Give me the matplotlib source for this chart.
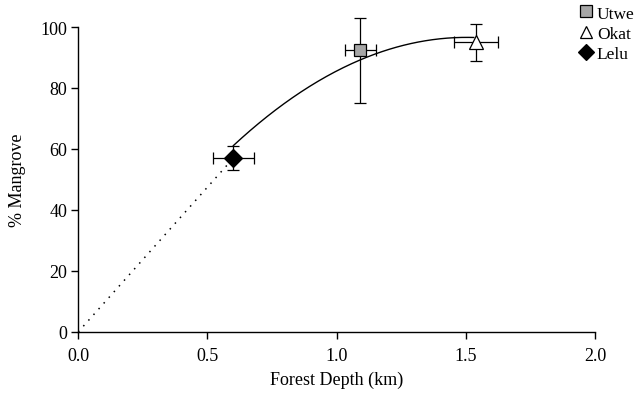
import matplotlib
matplotlib.use("Agg")
import matplotlib.pyplot as plt
import numpy as np

plt.rcParams['font.family'] = ['Liberation Serif', 'DejaVu Serif']

# Data
sites = ["Utwe", "Okat", "Lelu"]
depth = [1.09, 1.54, 0.60]
mangrove = [92.5, 95.0, 57.0]
depth_err = [0.06, 0.085, 0.08]
mangrove_err_low = [17.5, 6.0, 4.0]
mangrove_err_high = [10.5, 6.0, 4.0]
markers = ["s", "^", "D"]
facecolors = ["#a6a6a6", "white", "black"]

# Fitted curve coefficients (y = c + a x + b x^2), range of fit
fit_c, fit_a, fit_b = -1.8, 131.0, -43.6
fit_range = [0.60, 1.53]
# Dotted extrapolation to origin
extrap_x = [0.0, 0.60]
extrap_y = [0.0, 57.0]

fig = plt.figure(figsize=(6.36, 4.06), dpi=100)
ax = fig.add_axes([0.123, 0.18, 0.813, 0.751])

ax.plot(extrap_x, extrap_y, color="black", lw=1.1, linestyle=(0, (1, 4)), zorder=1)
xs = np.linspace(fit_range[0], fit_range[1], 200)
ax.plot(xs, fit_c + fit_a * xs + fit_b * xs**2, color="black", lw=1.0, zorder=2)

for i in range(len(sites)):
    ax.errorbar(depth[i], mangrove[i], xerr=depth_err[i],
                yerr=[[mangrove_err_low[i]], [mangrove_err_high[i]]],
                fmt="none", ecolor="black", elinewidth=0.9, capsize=4.5,
                capthick=0.9, clip_on=False, zorder=3)
    ms = 9 if markers[i] == "s" else (10 if markers[i] == "^" else 9)
    ax.plot(depth[i], mangrove[i], marker=markers[i], ms=ms,
            mfc=facecolors[i], mec="black", mew=0.9, linestyle="none",
            clip_on=False, zorder=4)

ax.set_xlim(0, 2.0)
ax.set_ylim(0, 100)
ax.set_xticks([0.0, 0.5, 1.0, 1.5, 2.0])
ax.set_xticklabels(["0.0", "0.5", "1.0", "1.5", "2.0"])
ax.set_yticks([0, 20, 40, 60, 80, 100])
for s in ["top", "right"]:
    ax.spines[s].set_visible(False)
for s in ["left", "bottom"]:
    ax.spines[s].set_linewidth(1.0)
ax.tick_params(direction="out", length=5, width=1.0, labelsize=13)
ax.tick_params(axis="x", pad=6)
ax.tick_params(axis="y", pad=3)
ax.set_xlabel("Forest Depth (km)", fontsize=13, labelpad=5)
ax.set_ylabel("% Mangrove", fontsize=13, labelpad=10)

leg_handles = []
for i in range(len(sites)):
    h, = plt.plot([], [], marker=markers[i], ms=8, mfc=facecolors[i], mec="black",
                  mew=0.9, linestyle="none")
    leg_handles.append(h)
fig.legend(leg_handles, sites, loc="upper left", bbox_to_anchor=(0.892, 1.01),
           frameon=False, fontsize=12.5, handletextpad=0.1, labelspacing=0.25,
           handlelength=1.0, borderaxespad=0.2)

fig.savefig("out.png", dpi=100)
